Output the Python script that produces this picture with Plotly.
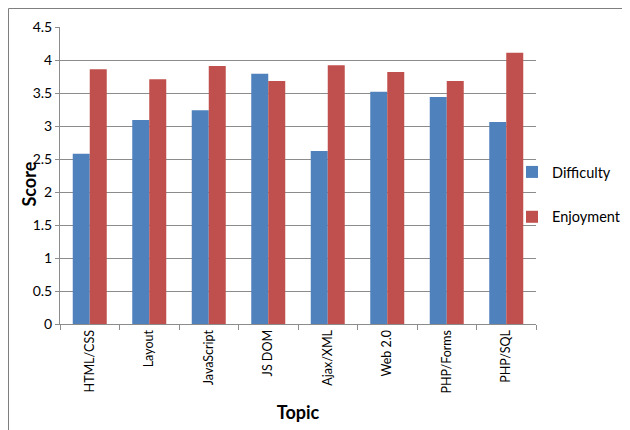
import plotly.graph_objects as go

topics = ["HTML/CSS", "Layout", "JavaScript", "JS DOM", "Ajax/XML", "Web 2.0", "PHP/Forms", "PHP/SQL"]
difficulty = [2.58, 3.09, 3.24, 3.79, 2.62, 3.52, 3.44, 3.06]
enjoyment = [3.86, 3.71, 3.91, 3.68, 3.92, 3.82, 3.68, 4.11]
y_ticks = [0, 0.5, 1, 1.5, 2, 2.5, 3, 3.5, 4, 4.5]
y_tick_labels = ["0", "0.5", "1", "1.5", "2", "2.5", "3", "3.5", "4", "4.5"]

FONT = "Lato"
GRID = "#8c8c8c"

fig = go.Figure()
fig.add_trace(go.Bar(x=topics, y=difficulty, name="Difficulty",
                     marker=dict(color="#4F81BD", line=dict(width=0)),
                     legendgroup="d"))
fig.add_trace(go.Bar(x=topics, y=enjoyment, name="Enjoyment",
                     marker=dict(color="#C0504D", line=dict(width=0)),
                     legendgroup="e"))

OFF = 8  # page body margin
W, H = 630 - OFF, 430 - OFF
L, R, T, B = 60 - OFF, 536 - OFF, 27 - OFF, 324 - OFF
pw, ph = R - L, B - T

def px(xp):
    return (xp - OFF - L) / pw

def py(yp):
    return (B - (yp - OFF)) / ph

fig.update_layout(
    width=W, height=H,
    margin=dict(l=L, r=W - R, t=T, b=H - B, autoexpand=False),
    paper_bgcolor="white", plot_bgcolor="white",
    barmode="group", bargap=1.5 / 3.5, bargroupgap=0,
    font=dict(family=FONT, size=13, color="black"),
    showlegend=True,
    legend=dict(x=px(512), xanchor="left", y=py(156), yanchor="top",
                font=dict(family=FONT, size=14.5, color="black"),
                traceorder="grouped", tracegroupgap=23,
                bgcolor="rgba(0,0,0,0)"),
    xaxis=dict(type="category", showline=True, linecolor=GRID, linewidth=1,
               ticks="outside", tickson="boundaries", ticklen=5, tickcolor=GRID,
               tickangle=-90, tickfont=dict(family=FONT, size=12.5),
               showgrid=False, zeroline=False, automargin=False,
               title=dict(text="<b>Topic</b>", font=dict(family=FONT, size=18), standoff=13)),
    yaxis=dict(range=[0, 4.5], tickvals=y_ticks, ticktext=y_tick_labels,
               showline=True, linecolor=GRID, linewidth=1,
               ticks="outside", ticklen=4, tickcolor=GRID,
               showgrid=True, gridcolor=GRID, gridwidth=1, zeroline=False,
               tickfont=dict(family=FONT, size=14), automargin=False),
    annotations=[dict(text="<b>Score</b>", xref="paper", yref="paper",
                      x=px(28), y=py(184.5), xanchor="center", yanchor="middle",
                      textangle=-90, showarrow=False,
                      font=dict(family=FONT, size=18, color="black"))],
)

# outer chart border (top and left visible)
fig.add_shape(type="rect", xref="paper", yref="paper",
              x0=px(8.5), x1=px(700), y0=py(600), y1=py(8.5),
              line=dict(color="#7f7f7f", width=1), fillcolor="rgba(0,0,0,0)", layer="below")

fig.write_html("out.html")
